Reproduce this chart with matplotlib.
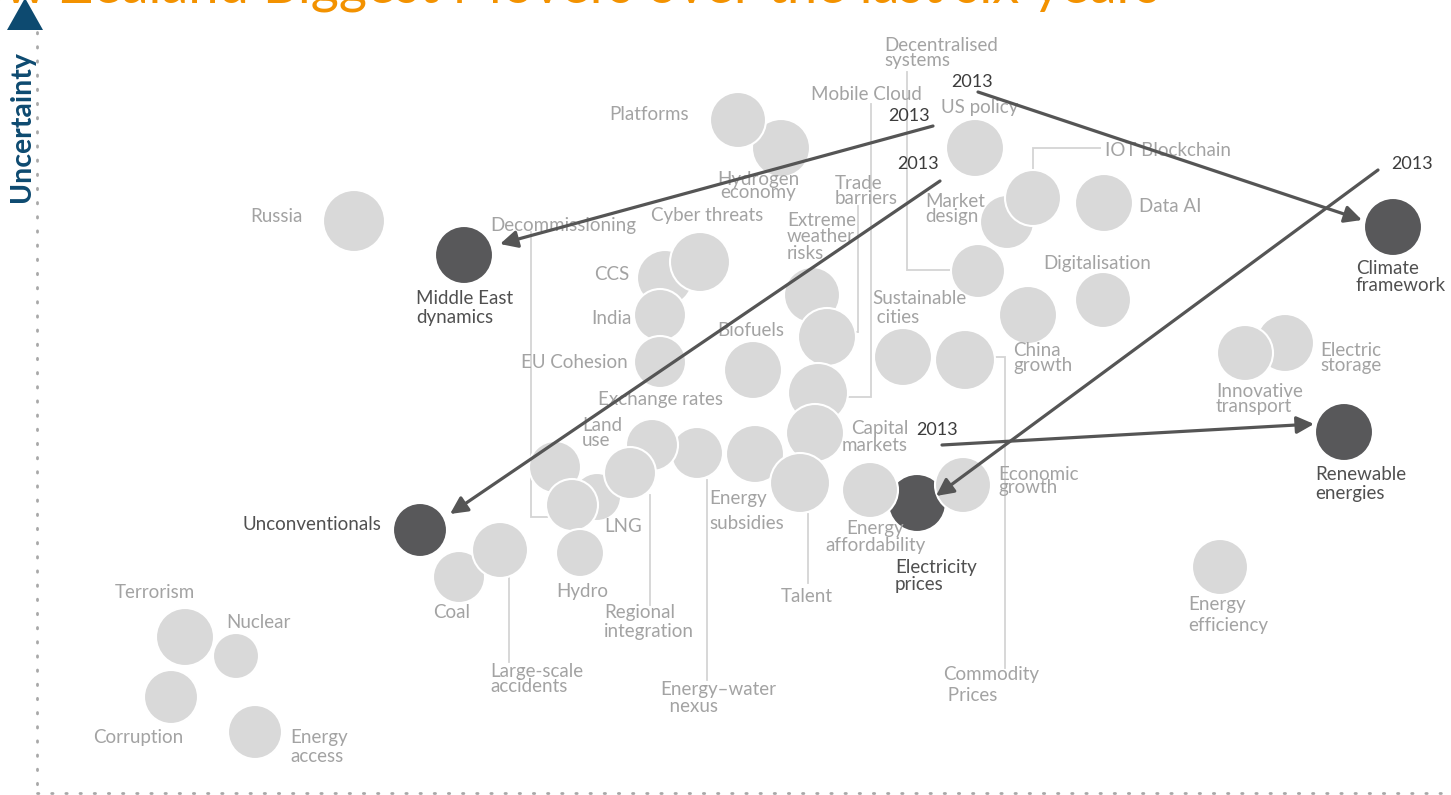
import matplotlib
matplotlib.use("Agg")
import matplotlib.pyplot as plt
from matplotlib.patches import Circle, Polygon

plt.rcParams['font.family'] = ['Lato', 'DejaVu Sans']

# -- DATA (chart space: x = impact, y = uncertainty, measured from the top) --
TITLE = "New Zealand Biggest Movers over the last six years"

# bubbles, drawn in this order (later ones sit on top)
bub_name = ["Russia", "Hydrogen economy", "Platforms", "US policy", "Market design",
            "IOT Blockchain", "Data AI", "Decentralised systems", "Digitalisation",
            "China growth", "Sustainable cities", "Commodity prices", "CCS",
            "Cyber threats", "India", "EU Cohesion", "Biofuels", "Extreme weather risks",
            "Trade barriers", "Mobile Cloud", "Capital markets", "Energy subsidies",
            "Energy-water nexus", "Exchange rates", "Land use", "LNG", "Decommissioning",
            "Regional integration", "Hydro", "Talent", "Electricity prices",
            "Energy affordability", "Economic growth", "Coal", "Large-scale accidents",
            "Unconventionals", "Middle East dynamics", "Electric storage",
            "Innovative transport", "Climate framework", "Renewable energies",
            "Energy efficiency", "Terrorism", "Nuclear", "Corruption", "Energy access"]
bub_x = [354, 781, 738, 975, 1007, 1033, 1104, 978, 1103, 1028, 903, 965, 665,
         700, 660, 660, 753, 812, 827, 818, 815, 755, 697, 652, 555, 597, 572,
         630, 580, 800, 917, 870, 963, 459, 500, 420, 464, 1285, 1245, 1393, 1344,
         1220, 185, 236, 171, 255]
bub_y = [221, 148, 120, 148, 222, 198, 203, 271, 300, 315, 357, 360, 278, 262,
         315, 362, 370, 295, 337, 393, 433, 454, 453, 445, 467, 497, 505, 473,
         553, 483, 503, 490, 485, 577, 550, 530, 255, 343, 353, 227, 432, 567,
         637, 656, 697, 732]
bub_r = [31, 29, 28, 29, 27, 28, 29, 27, 28, 29, 29, 30, 28, 30, 26, 26, 29, 28,
         29, 30, 29, 29, 26, 26, 26, 24, 26, 26, 24, 30, 29, 28, 28, 26, 28, 27,
         29, 29, 28, 29, 29, 28, 29, 23, 27, 27]
dark = ["Electricity prices", "Unconventionals", "Middle East dynamics",
        "Climate framework", "Renewable energies"]

# text labels
lab_text = ["Russia", "Platforms", "Hydrogen\neconomy", "Mobile Cloud",
            "Decentralised\nsystems", "US policy", "IOT Blockchain", "Trade\nbarriers",
            "Market\ndesign", "Data AI", "Cyber threats", "Decommissioning",
            "Extreme\nweather\nrisks", "Digitalisation", "CCS", "Sustainable\n cities",
            "India", "Biofuels", "China\ngrowth", "Electric\nstorage", "EU Cohesion",
            "Innovative\ntransport", "Exchange rates", "Land\nuse", "Capital\nmarkets",
            "Economic\ngrowth", "LNG", "Unconventionals", "Energy\naffordability",
            "Hydro", "Terrorism", "Talent", "Coal", "Regional\nintegration", "Nuclear",
            "Large-scale\naccidents", "Corruption", "Energy\naccess",
            "Middle East\ndynamics", "Climate\nframework", "Renewable\nenergies",
            "Electricity\nprices", "Energy\nsubsidies", "Energy\nefficiency",
            "Commodity\n Prices", "Energy–water\n  nexus"]
lab_dark = ["Unconventionals", "Middle East\ndynamics", "Climate\nframework",
            "Renewable\nenergies", "Electricity\nprices"]

# label layout: anchor x, centre y, alignment, gap between lines (px)
lab_x = [303, 689, 758, 811, 884, 941, 1105, 835, 925, 1139, 651, 490, 787, 1043,
         629, 872, 632, 717, 1013, 1320, 628, 1216, 598, 582, 908, 998, 604, 381,
         875, 556, 115, 781, 433, 604, 226, 490, 93, 290, 416, 1356, 1315, 895,
         709, 1188, 943, 660]
lab_y = [216, 114, 186, 94, 53, 107, 150, 191, 209, 206, 216, 225, 237, 264, 274,
         308, 318, 330, 358, 358, 363, 399, 399, 433, 437, 481, 527, 524, 537, 592,
         592, 597, 612, 622, 622, 679, 738, 747, 308, 277, 484, 576, 511, 615, 685,
         698]
lab_ha = ["right", "right", "center", "left", "left", "left", "left", "left", "left",
          "left", "left", "left", "left", "left", "right", "left", "right", "left",
          "left", "left", "right", "left", "left", "left", "right", "left", "left",
          "right", "center", "left", "left", "left", "left", "left", "left", "left",
          "left", "left", "left", "left", "left", "left", "left", "left", "left", "left"]
lab_gap = [0, 0, 12, 0, 14, 0, 0, 14, 15, 0, 0, 0, 16, 0, 0, 20, 0, 0, 15, 15, 0,
           13, 0, 15, 16, 12, 0, 0, 17, 0, 0, 0, 0, 19, 0, 14, 0, 18, 20, 17, 18, 17,
           25, 22, 21, 17]

# leader lines (polylines)
leaders = [
    [(1033, 170), (1033, 148), (1100, 148)],
    [(907, 72), (907, 270), (951, 270)],
    [(871, 104), (871, 397), (849, 397)],
    [(858, 206), (858, 332), (853, 332)],
    [(531, 232), (531, 517), (547, 517)],
    [(650, 495), (650, 605)],
    [(707, 480), (707, 680)],
    [(808, 514), (808, 583)],
    [(509, 578), (509, 662)],
    [(995, 357), (1005, 357), (1005, 668)],
]

# movement since 2013: start, end, where the "2013" sits
arr_start = [(933, 126), (978, 92), (940, 181), (1378, 170), (942, 445)]
arr_end = [(500, 244), (1362, 220), (450, 514), (936, 496), (1314, 424)]
yr_pos = [(909, 116), (972, 82), (918, 164), (1412, 164), (937, 430)]

LIGHT = "#d9d9d9"
DARK = "#58585a"
TXT = "#a3a3a3"
TXT_DARK = "#505050"
BLUE = "#0d4a70"
ORANGE = "#f39200"
FS = 13.5
LINE_H = 16.5  # px height of one text line at FS

fig = plt.figure(figsize=(14.51, 7.95), dpi=100)
ax = fig.add_axes([0, 0, 1, 1])
ax.set_xlim(0, 1451)
ax.set_ylim(795, 0)
ax.axis("off")

# leaders under everything
for pts in leaders:
    xs, ys = zip(*pts)
    ax.plot(xs, ys, color="#d4d4d4", lw=1.3, zorder=1, solid_joinstyle="miter")

for n, x, y, r in zip(bub_name, bub_x, bub_y, bub_r):
    fc = DARK if n in dark else LIGHT
    ax.add_patch(Circle((x, y), r, facecolor=fc, edgecolor="white", lw=1.5, zorder=2))

for t, x, y, ha, g in zip(lab_text, lab_x, lab_y, lab_ha, lab_gap):
    ls = g / LINE_H if g else 1.0
    ax.text(x, y, t, ha=ha, va="center", fontsize=FS, linespacing=ls,
            color=TXT_DARK if t in lab_dark else TXT, zorder=3)

for s, e, p in zip(arr_start, arr_end, yr_pos):
    ax.annotate("", xy=e, xytext=s, zorder=5,
                arrowprops=dict(arrowstyle="-|>", color="#555555", lw=2.3,
                                mutation_scale=26, shrinkA=0, shrinkB=0))
    ax.text(p[0], p[1], "2013", ha="center", va="center", fontsize=13,
            color="#3c3c3c", zorder=6)

# axes: dotted lines and the uncertainty marker
ax.plot([37, 37], [32, 793], color="#a8a8a8", lw=2, linestyle=(0, (0.5, 4.6)),
        dash_capstyle="round", zorder=1)
ax.plot([37, 1451], [793, 793], color="#a8a8a8", lw=2, linestyle=(0, (0.5, 4.6)),
        dash_capstyle="round", zorder=1)
ax.add_patch(Polygon([(7, 30), (43, 30), (25, -2)], closed=True, facecolor=BLUE,
                     edgecolor="none", zorder=4))
ax.text(22, 127, "Uncertainty", rotation=90, ha="center", va="center",
        fontsize=20.5, fontweight="bold", color=BLUE)

ax.text(1160, 3, TITLE, ha="right", va="baseline", fontsize=39, color=ORANGE, zorder=3)

fig.savefig("out.png", dpi=100)
